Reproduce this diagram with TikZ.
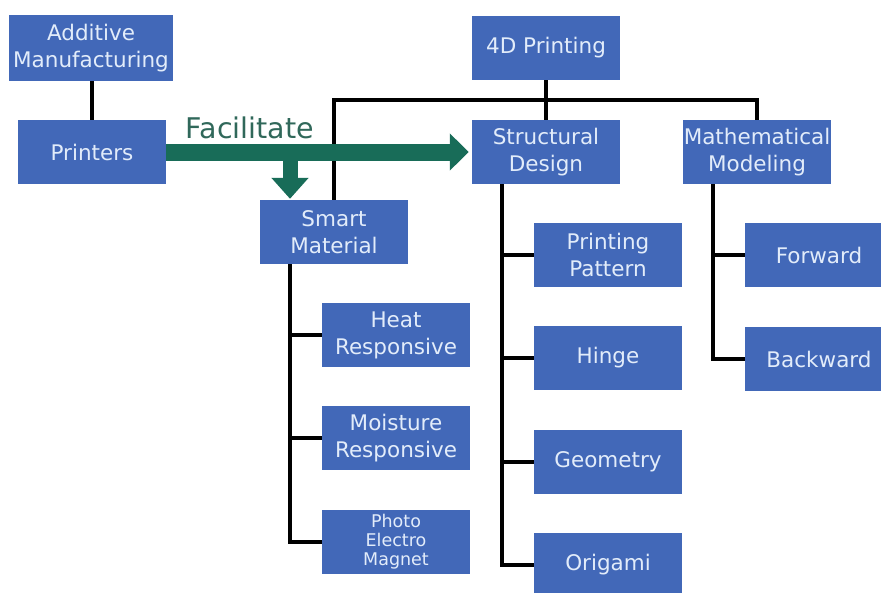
\documentclass[tikz,border=0pt]{standalone}
\usepackage{fontspec}
\setmainfont{DejaVu Sans}
\usetikzlibrary{arrows.meta,positioning}
\definecolor{boxblue}{RGB}{66,104,184}
\definecolor{boxtext}{RGB}{226,236,250}
\definecolor{facgreen}{RGB}{24,108,88}
\definecolor{factext}{RGB}{48,104,90}

\begin{document}
\begin{tikzpicture}[x=1pt,y=-1pt,
    box/.style={fill=boxblue,text=boxtext,minimum width=148pt,minimum height=64pt,
        inner sep=0pt,align=center,font=\fontsize{21.5}{27}\selectfont},
    smallbox/.style={box,font=\fontsize{17.5}{19}\selectfont},
    link/.style={draw=black,line width=3.5pt},
    facarrow/.style={draw=facgreen,line width=17pt,-{Triangle[length=19pt,width=36pt]}},
    facdown/.style={draw=facgreen,line width=15pt,-{Triangle[length=21pt,width=36pt]}}]
    \useasboundingbox[fill=white] (0,0) rectangle (881,592);
    \begin{scope}
    \clip (0,0) rectangle (881,592);
    % top level
    \node[box,minimum width=164pt,minimum height=66pt] (am) at (91,48) {Additive\\Manufacturing};
    \node[box] (pr) at (92,152) {Printers};
    \node[box] (fd) at (546,48) {4D Printing};
    \node[box] (sd) at (546,152) {Structural\\Design};
    \node[box] (mm) at (757,152) {Mathematical\\Modeling};
    \node[box] (sm) at (334,232) {Smart\\Material};
    % smart material branch
    \node[box] (hr) at (396,335) {Heat\\Responsive};
    \node[box] (mr) at (396,438) {Moisture\\Responsive};
    \node[smallbox] (pem) at (396,542) {Photo\\Electro\\Magnet};
    % structural design branch
    \node[box] (pp) at (608,255) {Printing\\Pattern};
    \node[box] (hi) at (608,358) {Hinge};
    \node[box] (ge) at (608,462) {Geometry};
    \node[box] (og) at (608,565) {Origami};
    % modeling branch
    \node[box] (fw) at (819,255) {Forward};
    \node[box] (bw) at (819,359) {Backward};

    % trunks
    \coordinate (bus) at (546,100);
    \coordinate (smT) at ([xshift=-44pt]sm.south);
    \coordinate (sdT) at ([xshift=-44pt]sd.south);
    \coordinate (mmT) at ([xshift=-44pt]mm.south);

    \draw[link] (pr.north) -- (pr.north |- am.south);
    \draw[link] (fd.south) -- (sd.north);
    \draw[link] (sm.north) |- (bus) -| (mm.north);
    \draw[link] (smT) |- (pem.west);
    \foreach \n in {hr,mr} \draw[link] (\n.west) -- (\n.west -| smT);
    \draw[link] (sdT) |- (og.west);
    \foreach \n in {pp,hi,ge} \draw[link] (\n.west) -- (\n.west -| sdT);
    \draw[link] (mmT) |- (bw.west);
    \draw[link] (fw.west) -- (fw.west -| mmT);

    % facilitate arrows
    \coordinate (fork) at (pr.east -| smT);
    \draw[facarrow] (pr.east) -- ([xshift=-3pt]sd.west);
    \draw[facdown] (fork) -- ([yshift=1pt]sm.north -| smT);
    \node[text=factext,font=\fontsize{28.5}{30}\selectfont,anchor=base] (fac) at (250,138) {Facilitate};
    \end{scope}
\end{tikzpicture}
\end{document}
